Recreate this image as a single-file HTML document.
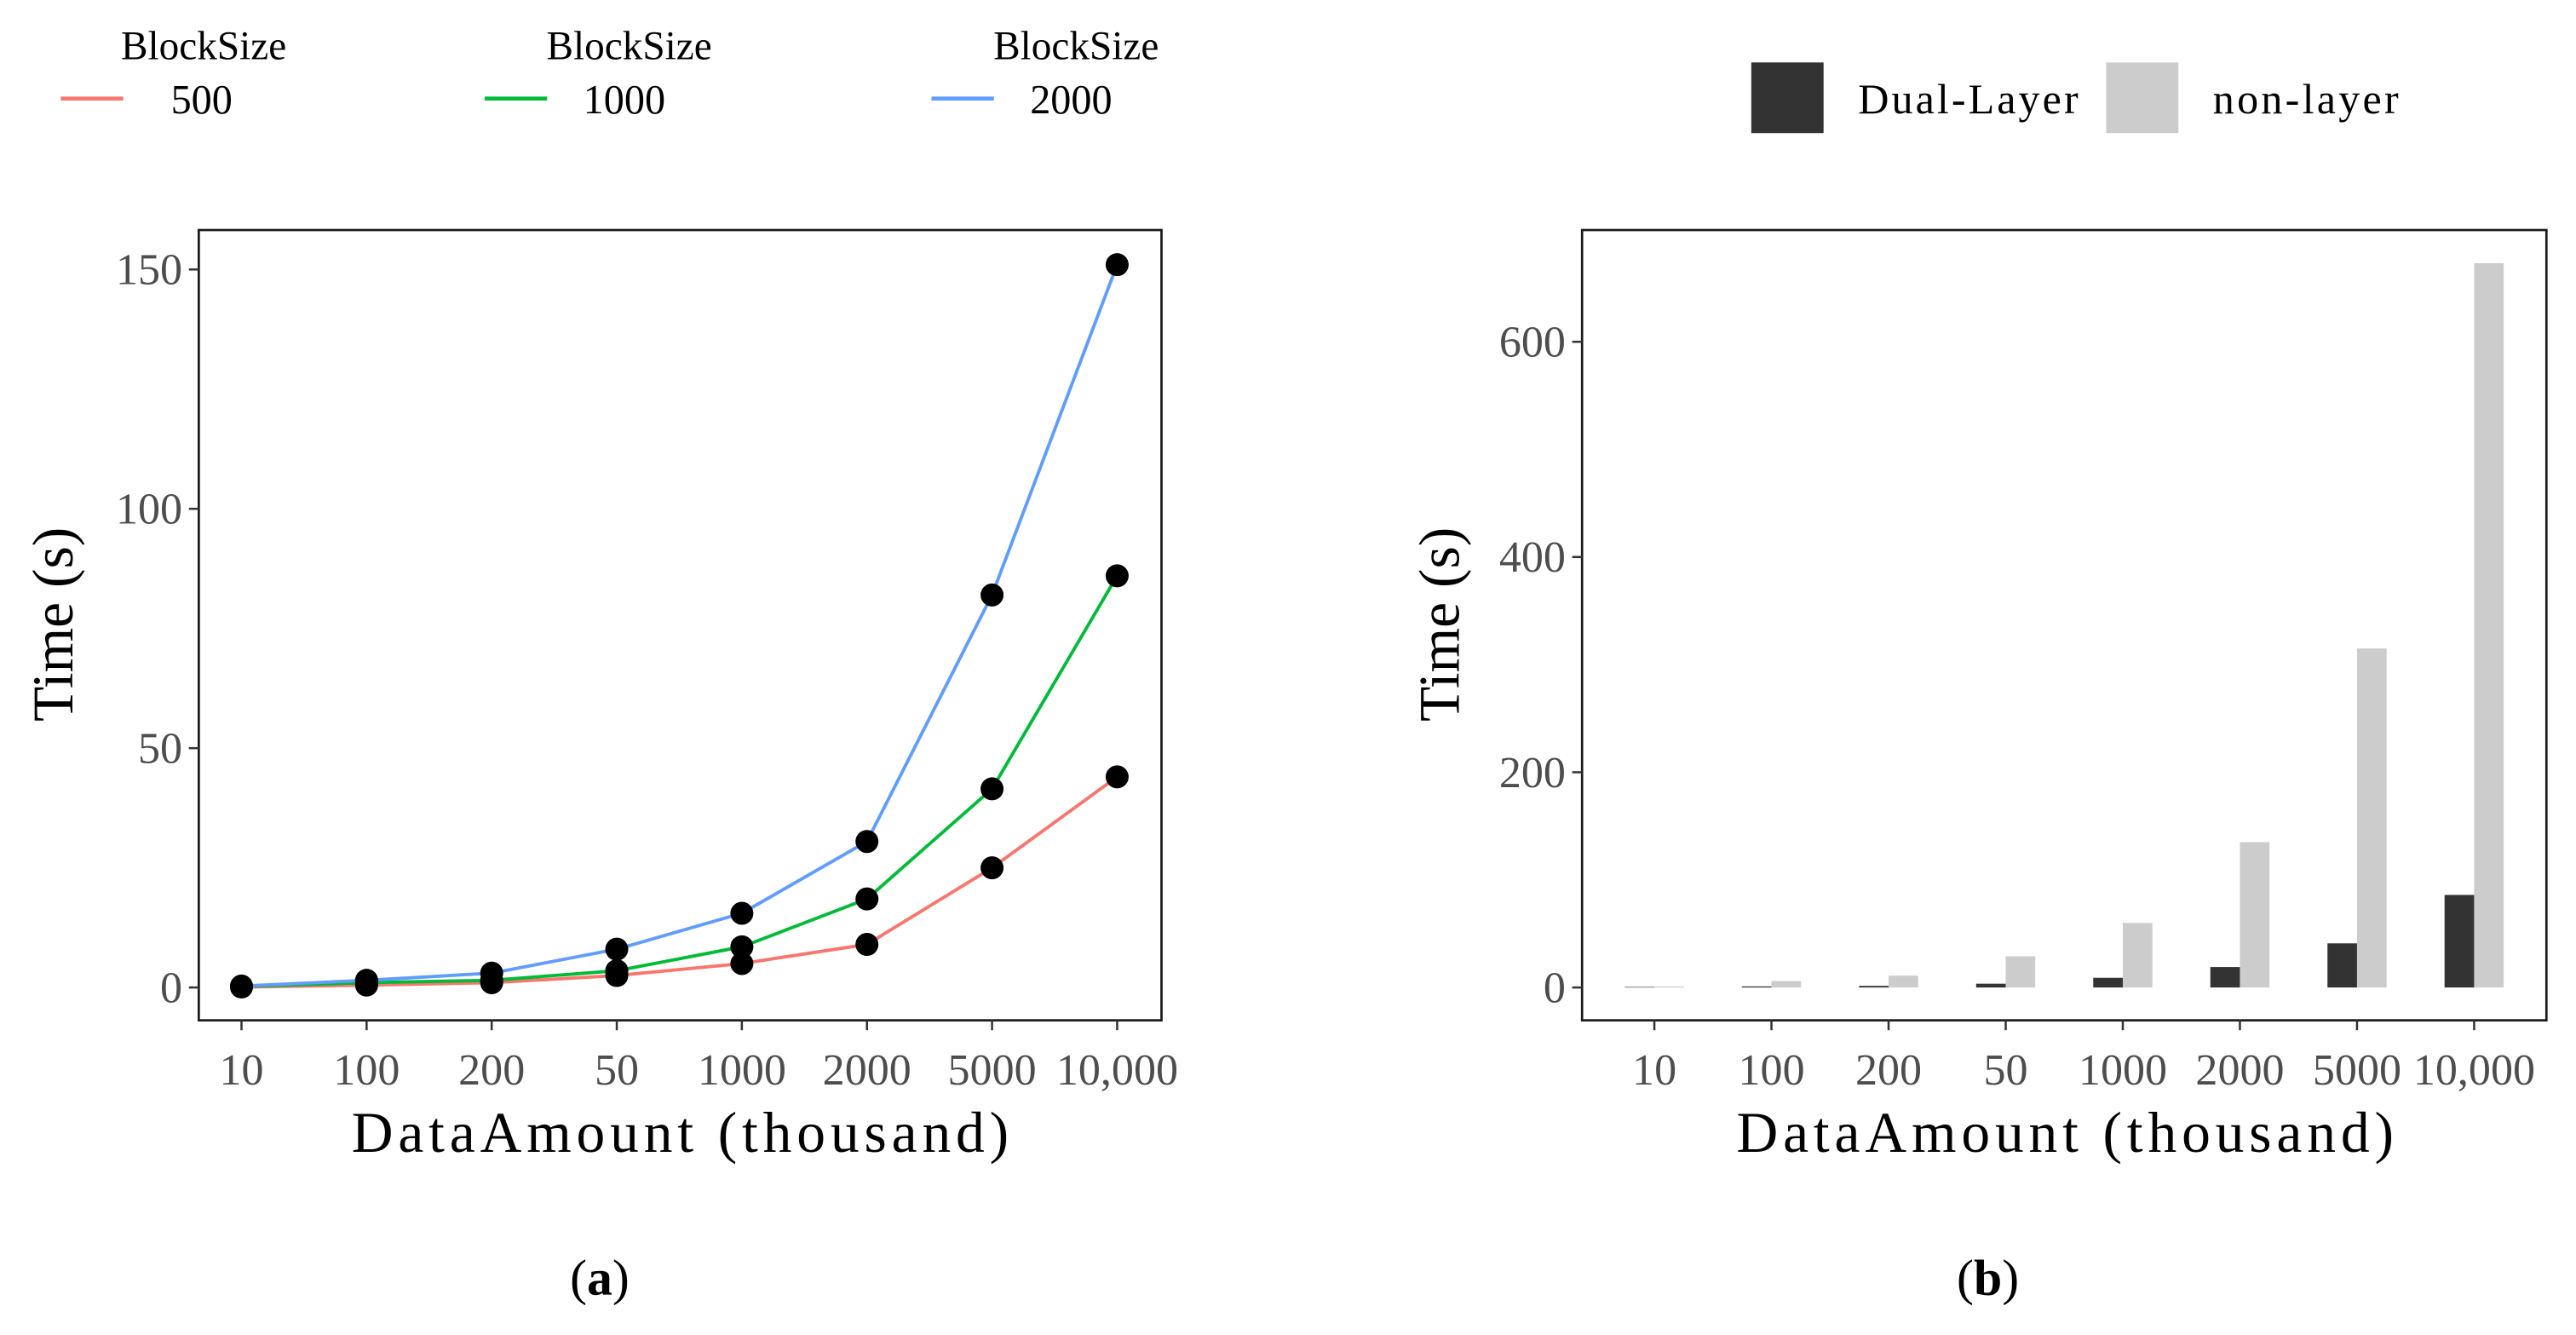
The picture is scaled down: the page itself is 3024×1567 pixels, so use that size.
<!DOCTYPE html>
<html><head><meta charset="utf-8"><style>
html,body{margin:0;padding:0;background:#fff;}
svg{display:block;}
text{font-family:"Liberation Serif",serif;}
</style></head><body>
<svg id="fig" width="3024" height="1567" viewBox="0 0 1568 812.5" xmlns="http://www.w3.org/2000/svg">
<rect x="0" y="0" width="1568" height="812.5" fill="#fff"/>
<g>
 <text x="124" y="36" font-size="24.5" text-anchor="middle">BlockSize</text>
 <line x1="37" y1="60" x2="75" y2="60" stroke="#F8766D" stroke-width="2.4"/>
 <text x="104" y="69" font-size="25">500</text>
 <text x="383" y="36" font-size="24.5" text-anchor="middle">BlockSize</text>
 <line x1="295" y1="60" x2="333" y2="60" stroke="#00BA38" stroke-width="2.4"/>
 <text x="355" y="69" font-size="25">1000</text>
 <text x="655" y="36" font-size="24.5" text-anchor="middle">BlockSize</text>
 <line x1="567" y1="60" x2="605" y2="60" stroke="#619CFF" stroke-width="2.4"/>
 <text x="627" y="69" font-size="25">2000</text>
</g>
<g>
 <rect x="1066" y="38" width="44" height="43" fill="#333333"/>
 <text x="1131" y="69" font-size="26" textLength="134">Dual-Layer</text>
 <rect x="1282" y="38" width="44" height="43" fill="#cccccc"/>
 <text x="1347" y="69" font-size="26" textLength="113">non-layer</text>
</g>
<g id="pa"></g>
<g id="pb"></g>
<text x="33" y="380" font-size="35" text-anchor="middle" transform="rotate(-90 33 380)" dy="11">Time (s)</text>
<text x="414" y="701" font-size="35" text-anchor="middle" textLength="400">DataAmount (thousand)</text>
<text x="877" y="380" font-size="35" text-anchor="middle" transform="rotate(-90 877 380)" dy="11">Time (s)</text>
<text x="1257" y="701" font-size="35" text-anchor="middle" textLength="400">DataAmount (thousand)</text>
<text x="365" y="788" font-size="31" text-anchor="middle">(<tspan font-weight="bold">a</tspan>)</text>
<text x="1210" y="788" font-size="31" text-anchor="middle">(<tspan font-weight="bold">b</tspan>)</text>
</svg>
<script>
const categories = ["10","100","200","50","1000","2000","5000","10,000"];
const series500 = [0.1,0.5,1,2.5,5,9,25,44];
const series1000 = [0.2,1,1.5,3.5,8.5,18.5,41.5,86];
const series2000 = [0.3,1.5,3,8,15.5,30.5,82,151];
const ticksA = [0,50,100,150];
const dualLayer = [0.5,1,1.5,3.5,9,19,41,86];
const nonLayer = [1,6,11,29,60,135,315,673];
const ticksB = [0,200,400,600];

const NS = "http://www.w3.org/2000/svg";
function mk(tag, attrs, parent){const e=document.createElementNS(NS,tag);for(const k in attrs)e.setAttribute(k,attrs[k]);parent.appendChild(e);return e;}

// Panel A
const pa = document.getElementById('pa');
const A = {l:121,r:707,t:140,b:621,x0:147,x1:680,y0:601,yPer:(601-164)/150};
const xA = i => A.x0 + i*(A.x1-A.x0)/(categories.length-1);
const yA = v => A.y0 - v*A.yPer;
let f = mk('rect',{x:A.l,y:A.t,width:A.r-A.l,height:A.b-A.t,fill:'none',stroke:'#1a1a1a','stroke-width':1.4},pa);


ticksA.forEach(t=>{
  const l = mk('line',{x1:A.l-6,x2:A.l,y1:yA(t),y2:yA(t),stroke:'#333','stroke-width':1.3},pa);
  
  
  const tx = mk('text',{x:A.l-10,y:yA(t)+9,'font-size':27,'text-anchor':'end',fill:'#4d4d4d'},pa);
  tx.textContent = t;
  
  
});
categories.forEach((c,i)=>{
  const l = mk('line',{x1:xA(i),x2:xA(i),y1:A.b,y2:A.b+6,stroke:'#333','stroke-width':1.3},pa);
  
  
  const tx = mk('text',{x:xA(i),y:660,'font-size':27,'text-anchor':'middle',fill:'#4d4d4d'},pa);
  tx.textContent = c;
  
  
});
[[series500,'#F8766D','500'],[series1000,'#00BA38','1000'],[series2000,'#619CFF','2000']].forEach(([s,col,nm])=>{
  const p = mk('polyline',{points:s.map((v,i)=>xA(i)+','+yA(v)).join(' '),fill:'none',stroke:col,'stroke-width':2},pa);
  
  
});
[series500,series1000,series2000].forEach(s=>{
  s.forEach((v,i)=>{
    const c = mk('circle',{cx:xA(i),cy:yA(v),r:7,fill:'#000'},pa);
    
    
  });
});

// Panel B
const pb = document.getElementById('pb');
const B = {l:963,r:1550,t:140,b:621,x0:1007,x1:1506,y0:601,yPer:(601-208)/600};
const xB = i => B.x0 + i*(B.x1-B.x0)/(categories.length-1);
const yB = v => B.y0 - v*B.yPer;
f = mk('rect',{x:B.l,y:B.t,width:B.r-B.l,height:B.b-B.t,fill:'none',stroke:'#1a1a1a','stroke-width':1.4},pb);


ticksB.forEach(t=>{
  const l = mk('line',{x1:B.l-6,x2:B.l,y1:yB(t),y2:yB(t),stroke:'#333','stroke-width':1.3},pb);
  
  
  const tx = mk('text',{x:B.l-10,y:yB(t)+9,'font-size':27,'text-anchor':'end',fill:'#4d4d4d'},pb);
  tx.textContent = t;
  
  
});
const bw = 18;
categories.forEach((c,i)=>{
  const l = mk('line',{x1:xB(i),x2:xB(i),y1:B.b,y2:B.b+6,stroke:'#333','stroke-width':1.3},pb);
  
  
  const tx = mk('text',{x:xB(i),y:660,'font-size':27,'text-anchor':'middle',fill:'#4d4d4d'},pb);
  tx.textContent = c;
  
  
  const d = mk('rect',{x:xB(i)-bw,y:yB(dualLayer[i]),width:bw,height:B.y0-yB(dualLayer[i]),fill:'#333333'},pb);
  
  
  const n = mk('rect',{x:xB(i),y:yB(nonLayer[i]),width:bw,height:B.y0-yB(nonLayer[i]),fill:'#cccccc'},pb);
  
  
});
</script>
</body></html>
